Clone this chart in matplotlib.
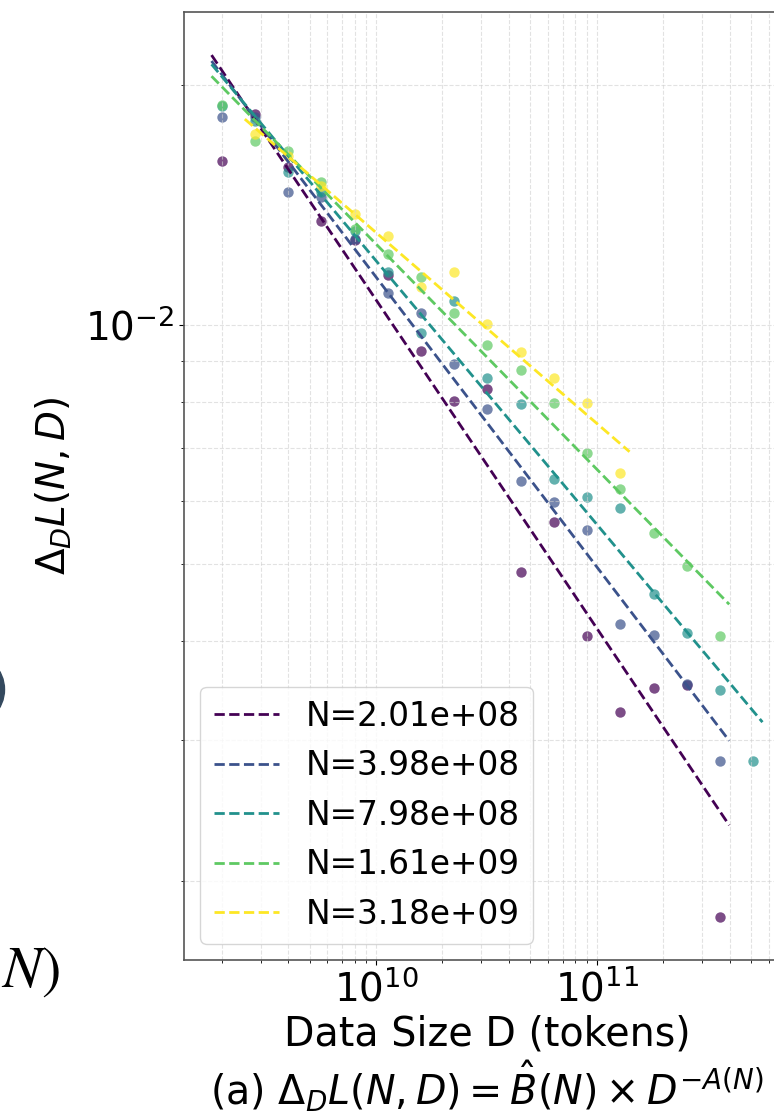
import numpy as np
import matplotlib
matplotlib.use("Agg")
import matplotlib.pyplot as plt
from matplotlib.patches import Ellipse
from matplotlib.ticker import NullFormatter

# -----------------------------
# Data
# -----------------------------
D_TOKENS = [2.0e9, 2.83e9, 4.0e9, 5.66e9, 8.0e9, 1.13e10, 1.6e10, 2.26e10, 3.2e10,
            4.53e10, 6.4e10, 9.05e10, 1.28e11, 1.81e11, 2.56e11, 3.62e11, 5.12e11]

N_LABELS = ["N=2.01e+08", "N=3.98e+08", "N=7.98e+08", "N=1.61e+09", "N=3.18e+09"]

nan = np.nan
loss_n201m = [0.01604, 0.01839, 0.01578, 0.01350, 0.01278, 0.01156, 0.00926, 0.00801, 0.00829,
              0.00488, 0.00565, 0.00406, 0.00326, 0.00349, 0.00352, 0.00180, nan]
loss_n398m = [0.01824, 0.01825, 0.01467, 0.01449, 0.01282, 0.01095, 0.01034, 0.00892, 0.00784,
              0.00636, 0.00599, 0.00552, 0.00420, 0.00407, 0.00353, 0.00283, nan]
loss_n798m = [0.01883, 0.01804, 0.01557, 0.01467, 0.01313, 0.01164, 0.00977, 0.01071, 0.00856,
              0.00794, 0.00639, 0.00607, 0.00588, 0.00458, 0.00410, 0.00347, 0.00283]
loss_n161b = [0.01887, 0.01703, 0.01654, 0.01513, 0.01320, 0.01226, 0.01147, 0.01035, 0.00942,
              0.00876, 0.00796, 0.00690, 0.00621, 0.00547, 0.00497, 0.00406, nan]
loss_n318b = [nan, 0.01738, 0.01628, 0.01496, 0.01377, 0.01294, 0.01115, 0.01164, 0.01003,
              0.00924, 0.00858, 0.00798, 0.00650, nan, nan, nan, nan]

# fitted power law  dL = B * D^(-A)
FIT_A = [0.413, 0.3645, 0.3315, 0.2832, 0.240]
FIT_B = [145.0, 50.7, 24.86, 8.58, 3.28]

series = [loss_n201m, loss_n398m, loss_n798m, loss_n161b, loss_n318b]

# -----------------------------
# Figure
# -----------------------------
W, H = 774, 1117
fig = plt.figure(figsize=(W / 100, H / 100), dpi=100)
ax = fig.add_axes([184 / W, 157 / H, 606 / W, 948 / H])

colors = plt.cm.viridis(np.linspace(0, 1, len(series)))
x_all = np.array(D_TOKENS)

for vals, a, b, lab, c in zip(series, FIT_A, FIT_B, N_LABELS, colors):
    y = np.array(vals, dtype=float)
    ok = ~np.isnan(y)
    ax.scatter(x_all[ok], y[ok], s=56, color=c, alpha=0.7, linewidths=0)
    xs = np.logspace(np.log10(x_all[ok].min() * 0.9), np.log10(x_all[ok].max() * 1.1), 100)
    ax.plot(xs, b * xs ** (-a), "--", color=c, lw=2.0, label=lab)

ax.set_xscale("log")
ax.set_yscale("log")
ax.yaxis.set_minor_formatter(NullFormatter())
ax.xaxis.set_minor_formatter(NullFormatter())
ax.grid(True, which="both", ls="--", lw=0.8, color="#d0d0d0", alpha=0.6)
ax.tick_params(labelsize=28)
for s in ax.spines.values():
    s.set_color("#555555")
    s.set_linewidth(1.2)

ax.set_ylabel(r"$\Delta_D L(N,D)$", fontsize=28, labelpad=8)
ax.set_xlabel("Data Size D (tokens)\n" + r"(a) $\Delta_D L(N,D) = \hat{B}(N) \times D^{-A(N)}$",
              fontsize=28.5, linespacing=1.1)
ax.legend(loc="lower left", fontsize=23.6)

# bits of the neighbouring panel that show at the left edge
fig.patches.append(Ellipse((-31.8 / W, 1 - 689.5 / H), 2 * 36.3 / W, 2 * 36.3 / H,
                           transform=fig.transFigure, color="#34495e"))
fig.text(1 / W, 130 / H, r"$N)$", ha="left", va="baseline", fontsize=42,
         math_fontfamily="stix")

fig.savefig("out.png", dpi=100)
